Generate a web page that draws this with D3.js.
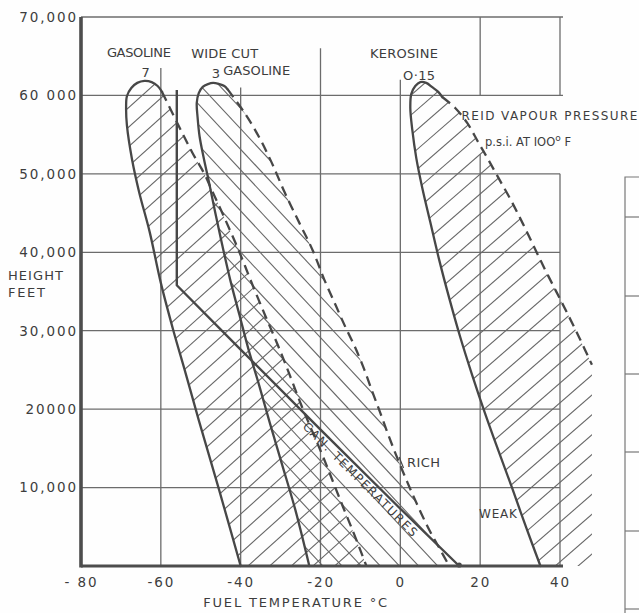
<!DOCTYPE html>
<html><head><meta charset="utf-8">
<script src="https://cdn.jsdelivr.net/npm/d3@7"></script>
<style>
body{margin:0;background:#fff}
svg{display:block}
text{font-family:"DejaVu Sans",sans-serif;fill:#3d3d3d}
</style>
</head><body><svg id="c" width="639" height="613"></svg>
<script>
// ---- data (fuel temperature °C, height ft) ----
const xTicks=[-80,-60,-40,-20,0,20,40];
const xTickLabels=["- 80","-60","-40","-20","0","20","40"];
const yTicks=[10000,20000,30000,40000,50000,60000,70000];
const yTickLabels=["10,000","20000","30,000","40,000","50,000","60 000","70,000"];

// Gasoline, RVP 7
const gasoline7Solid=[[-40,0],[-45.4,9700],[-50.5,18600],[-53.8,24600],[-56.9,30100],[-60.0,36100],[-62.8,42600],[-65.4,47600],[-67.2,51800],[-68.5,56200],[-68.7,58400],[-68.5,59900],[-67.4,60950],[-65.9,61600],[-64.1,61850],[-62.3,61700],[-60.8,61200],[-59.7,60450]];
const gasoline7Dashed=[[-59.7,60450],[-55.6,56200],[-52.1,52700],[-49.2,50100],[-47.2,47900],[-43.8,44100],[-40.3,40000],[-37.0,35800],[-33.7,31750],[-30.6,28050],[-27.6,24200],[-24.8,20500],[-22.0,17100],[-19.25,13800],[-16.75,10600],[-14.25,7400],[-12.0,4600],[-10.0,2000],[-8.5,0]];

// Wide cut gasoline, RVP 3
const wideCutSolid=[[-22.8,0],[-26.3,7150],[-29.6,12900],[-32.7,18250],[-35.4,23100],[-38.0,27550],[-40.3,32000],[-42.6,36450],[-44.6,40900],[-46.4,45150],[-47.9,48850],[-49.2,51900],[-50.3,54800],[-50.8,57250],[-51.0,59050],[-50.5,60300],[-49.5,61100],[-48.2,61450],[-46.9,61600],[-45.4,61450],[-44.1,61200],[-43.3,60800]];
const wideCutDashed=[[-43.3,60800],[-39.0,57750],[-35.4,54700],[-32.2,51400],[-28.9,47550],[-25.3,43750],[-22.0,40300],[-19.0,36450],[-16.25,33300],[-13.75,30450],[-11.25,27800],[-9.0,25000],[-7.0,22200],[-5.0,19500],[-3.0,16700],[-0.75,13750],[1.75,10700],[4.25,7800],[7.0,4850],[9.75,2300],[12.25,0]];

// Kerosine, RVP 0.15
const keroseneSolid=[[35.1,0],[31.5,4950],[28.0,9950],[24.5,14800],[21.2,19500],[18.0,24350],[15.0,29200],[12.25,34150],[9.75,39000],[7.5,43850],[5.5,48200],[4.0,52000],[3.0,55600],[2.5,58400],[2.75,60200],[3.75,61200],[5.0,61700],[6.5,61600],[8.0,61050],[9.5,60450],[10.5,59800]];
const keroseneDashed=[[10.5,59800],[13.75,58400],[16.75,56500],[19.5,54050],[22.1,51750],[24.9,49200],[27.8,46550],[30.6,43750],[33.4,40800],[36.2,37850],[39.1,34950],[41.9,32150],[44.9,29050],[48.0,25650]];
const keroseneHatchEdge=[[48.0,25650],[48.0,0]];

// Can temperatures
const canTemperature=[[-56,60700],[-56,35800],[-40,27600],[-20,17400],[0,7300],[14.75,0]];

// ---- layout ----
const W=639,H=613;
const x=d3.scaleLinear().domain([-80,40]).range([81,560]);
const y=d3.scaleLinear().domain([0,70000]).range([566,17]);
const svg=d3.select("#c");
svg.append("rect").attr("width",W).attr("height",H).attr("fill","#fefefe");
const defs=svg.append("defs");
const INK="#474747", GRID="#6c6c6c", HATCH="#676767";

// grid lines
const vGrid=[{t:-60,segs:[[63500,0]]},{t:-40,segs:[[61000,0]]},{t:-20,segs:[[66000,0]]},{t:0,segs:[[62000,0]]},{t:20,segs:[[70000,60000],[52500,0]]},{t:40,segs:[[70000,60000],[50000,0]]}];
const g=svg.append("g").attr("stroke",GRID).attr("stroke-width",1.3);
vGrid.forEach(v=>v.segs.forEach(s=>{
  g.append("line").attr("x1",x(v.t)).attr("x2",x(v.t)).attr("y1",y(s[0])).attr("y2",y(s[1]));
}));
yTicks.forEach(h=>{
  g.append("line").attr("x1",x(-80)).attr("x2",x(40)+(h>=60000?3:0)).attr("y1",y(h)).attr("y2",y(h));
});

// hatched envelopes (explicit hatch lines clipped to each envelope)
const curve=d3.line().x(d=>x(d[0])).y(d=>y(d[1])).curve(d3.curveCatmullRom.alpha(0.5));
const lin=d3.line().x(d=>x(d[0])).y(d=>y(d[1]));
function region(id,solid,dashed,extra,angle,gap,phase){
  const d=curve(solid)+"L"+curve(dashed).slice(1)+(extra?"L"+lin(extra).slice(1):"")+"Z";
  defs.append("clipPath").attr("id",id).append("path").attr("d",d);
  const outer=svg.append("g").attr("clip-path",`url(#${id})`);
  const inner=outer.append("g").attr("transform",`rotate(${angle},${W/2},${H/2})`);
  for(let v=-W;v<=W+H;v+=gap){
    inner.append("line").attr("x1",-W).attr("x2",2*W).attr("y1",v+phase).attr("y2",v+phase)
      .attr("stroke",HATCH).attr("stroke-width",1.1);
  }
}
region("cG",gasoline7Solid,gasoline7Dashed,null,-42,14.5,3);
region("cW",wideCutSolid,wideCutDashed,null,47,14,0);
region("cK",keroseneSolid,keroseneDashed,keroseneHatchEdge,-41,15,6);

// envelope boundaries
[gasoline7Solid,wideCutSolid,keroseneSolid].forEach(s=>{
  svg.append("path").attr("d",curve(s)).attr("fill","none").attr("stroke",INK).attr("stroke-width",2.3).attr("stroke-linecap","round");
});
[gasoline7Dashed,wideCutDashed,keroseneDashed].forEach(s=>{
  svg.append("path").attr("d",curve(s)).attr("fill","none").attr("stroke",INK).attr("stroke-width",2.3).attr("stroke-dasharray","10,6");
});
// can temperature line
svg.append("path").attr("d",lin(canTemperature)).attr("fill","none").attr("stroke",INK).attr("stroke-width",2.4).attr("stroke-linejoin","round");
const last=canTemperature[canTemperature.length-1];
svg.append("circle").attr("cx",x(last[0])).attr("cy",y(last[1])-1).attr("r",2.6).attr("fill",INK);

// axes frame
svg.append("line").attr("x1",x(-80)).attr("x2",x(-80)).attr("y1",y(70000)).attr("y2",y(0)+1.5).attr("stroke","#4d4d4d").attr("stroke-width",3.6);
svg.append("line").attr("x1",x(-80)).attr("x2",x(40)+3).attr("y1",y(0)).attr("y2",y(0)).attr("stroke","#4d4d4d").attr("stroke-width",3.2);

// tick labels via d3 axes
const ax=svg.append("g").attr("transform",`translate(0,${y(0)})`)
  .call(d3.axisBottom(x).tickValues(xTicks).tickFormat((d,i)=>xTickLabels[i]).tickSize(0).tickPadding(11));
const ay=svg.append("g").attr("transform",`translate(${x(-80)},0)`)
  .call(d3.axisLeft(y).tickValues(yTicks).tickFormat(d=>yTickLabels[yTicks.indexOf(d)]).tickSize(0).tickPadding(3));
[ax,ay].forEach(a=>{
  a.select(".domain").remove();
  a.selectAll("text").attr("font-family","'DejaVu Sans',sans-serif").attr("font-size",13.5).attr("fill","#3d3d3d").attr("letter-spacing",1.9);
});

// annotations
const notes=[
  {s:"GASOLINE",t:-65.5,h:64900,w:64,a:"middle"},
  {s:"7",t:-63.8,h:62350,a:"middle"},
  {s:"WIDE  CUT",t:-44.0,h:64770,w:67,a:"middle"},
  {s:"3",t:-46.2,h:62250,a:"middle"},
  {s:"GASOLINE",t:-36.0,h:62600,w:67,a:"middle"},
  {s:"KEROSINE",t:0.9,h:64770,w:68,a:"middle"},
  {s:"O·15",t:4.7,h:61965,w:32,a:"middle"},
  {s:"REID  VAPOUR  PRESSURE",t:15.3,h:56865,w:176,a:"start",fs:12},
  {s:"RICH",t:1.7,h:12620,w:33,a:"start"},
  {s:"WEAK",t:19.7,h:6120,w:38,a:"start",fs:12},
  {s:"HEIGHT",t:-98.3,h:36465,w:55,a:"start"},
  {s:"FEET",t:-98.3,h:34300,w:37,a:"start"},
  {s:"FUEL  TEMPERATURE  °C",t:-49.4,h:-5230,w:184,a:"start"}
];
notes.forEach(n=>{
  const t=svg.append("text").attr("x",x(n.t)).attr("y",y(n.h)).attr("text-anchor",n.a)
    .attr("font-size",n.fs||13).text(n.s);
  if(n.w) t.attr("textLength",n.w).attr("lengthAdjust","spacing");
});
// small leader by RICH
svg.append("line").attr("x1",x(-0.3)).attr("y1",y(13900)).attr("x2",x(0.8)).attr("y2",y(12500)).attr("stroke",INK).attr("stroke-width",1.2);
// p.s.i. line
const ps=svg.append("text").attr("x",x(21.2)).attr("y",y(53550)).attr("font-size",11.5);
ps.append("tspan").text("p.s.i.  AT   IOO");
ps.append("tspan").attr("dy",-5).attr("font-size",9).text("o");
ps.append("tspan").attr("dy",5).text(" F");

// CAN TEMPERATURES label beneath the line
function canAt(t){
  for(let i=1;i<canTemperature.length;i++){
    const a=canTemperature[i-1],b=canTemperature[i];
    if(t>=a[0]&&t<=b[0]&&b[0]!==a[0]) return a[1]+(b[1]-a[1])*(t-a[0])/(b[0]-a[0]);
  }
  return 0;
}
const p1=canTemperature[2],p2=canTemperature[4];
const ang=Math.atan2(y(p2[1])-y(p1[1]),x(p2[0])-x(p1[0]))*180/Math.PI;
const at=-22.6;
svg.append("text").attr("transform",`translate(${x(at)},${y(canAt(at))}) rotate(${ang})`)
  .attr("x",0).attr("y",11.5).attr("font-size",12).attr("textLength",156).attr("lengthAdjust","spacing")
  .text("CAN. TEMPERATURES");

// adjacent page edge (scan)
const side=svg.append("g").attr("stroke","#777").attr("stroke-width",1.2);
side.append("path").attr("d","M639,177H625V613").attr("fill","none");
[217,296,374,452,531,609].forEach(v=>side.append("line").attr("x1",625).attr("x2",639).attr("y1",v).attr("y2",v));
</script>
</body></html>
